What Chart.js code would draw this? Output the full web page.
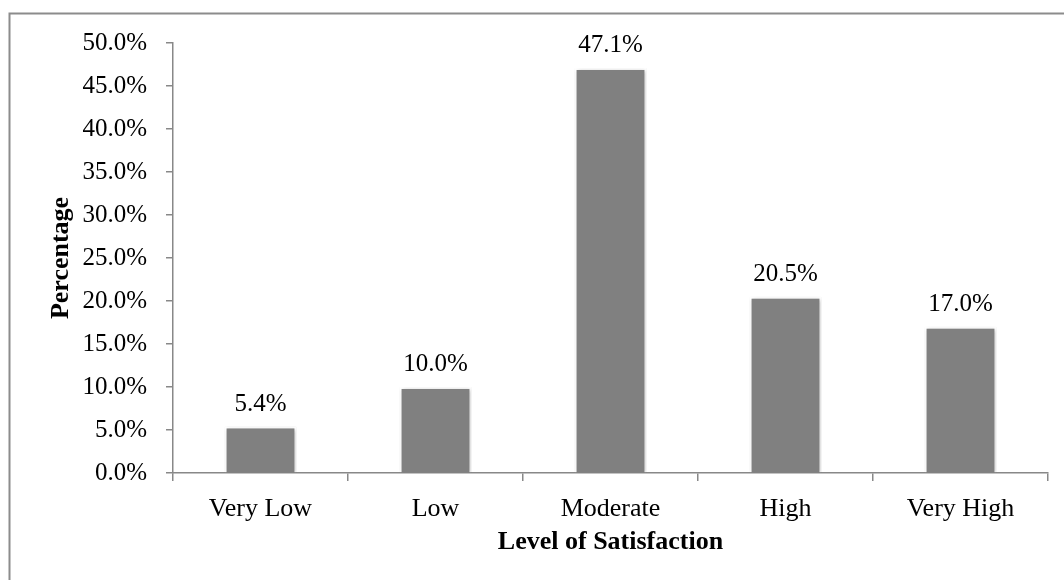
<!DOCTYPE html>
<html>
<head>
<meta charset="utf-8">
<script src="https://cdn.jsdelivr.net/npm/chart.js@4/dist/chart.umd.min.js"></script>
<style>
  html, body { margin: 0; padding: 0; background: #fff; }
  #wrap { width: 1064px; height: 580px; }
</style>
</head>
<body>
<div id="wrap"><canvas id="c" width="1064" height="580"></canvas></div>
<script>
// Satisfaction levels and share of respondents (%)
const categories = ['Very Low', 'Low', 'Moderate', 'High', 'Very High'];
const percentages = [5.4, 10.0, 47.1, 20.5, 17.0];
const yTicks = [0, 5, 10, 15, 20, 25, 30, 35, 40, 45, 50];
const yTitle = 'Percentage';
const xTitle = 'Level of Satisfaction';

const SERIF = "'Liberation Serif', 'Times New Roman', serif";
const AXIS_GREY = '#888888';

// Grey frame around the figure (left and top edges visible)
const framePlugin = {
  id: 'frame',
  beforeDraw(chart) {
    const ctx = chart.ctx;
    ctx.save();
    ctx.strokeStyle = '#8c8c8c';
    ctx.lineWidth = 2;
    ctx.strokeRect(9.5, 13.5, 1200, 700);
    ctx.restore();
  }
};

// Soft shadow under the bars
const shadowPlugin = {
  id: 'barShadow',
  beforeDatasetDraw(chart) {
    const ctx = chart.ctx;
    ctx.save();
    ctx.shadowColor = 'rgba(0,0,0,0.28)';
    ctx.shadowBlur = 4;
    ctx.shadowOffsetX = 1;
    ctx.shadowOffsetY = 1;
  },
  afterDatasetDraw(chart) {
    chart.ctx.restore();
  }
};

// Value labels above each bar
const valueLabels = {
  id: 'valueLabels',
  afterDatasetsDraw(chart) {
    const ctx = chart.ctx;
    const meta = chart.getDatasetMeta(0);
    ctx.save();
    ctx.font = '25px ' + SERIF;
    ctx.fillStyle = '#000';
    ctx.textAlign = 'center';
    ctx.textBaseline = 'alphabetic';
    meta.data.forEach((bar, i) => {
      const v = chart.data.datasets[0].data[i];
      ctx.fillText(v.toFixed(1) + '%', bar.x, bar.y - 16);
    });
    ctx.restore();
  }
};

new Chart(document.getElementById('c'), {
  type: 'bar',
  data: {
    labels: categories,
    datasets: [{
      data: percentages,
      backgroundColor: '#808080',
      borderColor: '#ffffff',
      borderWidth: 2,
      borderSkipped: 'bottom',
      barPercentage: 0.41,
      categoryPercentage: 1
    }]
  },
  options: {
    responsive: false,
    animation: false,
    layout: { padding: { left: 0, top: 43, right: 16, bottom: 0 } },
    plugins: {
      legend: { display: false },
      tooltip: { enabled: false }
    },
    scales: {
      x: {
        grid: {
          drawOnChartArea: false,
          drawTicks: true,
          tickLength: 8,
          color: AXIS_GREY,
          lineWidth: 1.5,
          offset: true
        },
        border: { color: AXIS_GREY, width: 1.5 },
        ticks: {
          font: { family: SERIF, size: 26 },
          color: '#000',
          padding: 13,
          maxRotation: 0
        },
        title: {
          display: true,
          text: xTitle,
          font: { family: SERIF, size: 26, weight: 'bold' },
          color: '#000',
          padding: { top: 0, bottom: 22 }
        },
        afterFit(scale) { scale.height = 107; }
      },
      y: {
        min: 0,
        max: 50,
        afterBuildTicks(scale) { scale.ticks = yTicks.map(v => ({ value: v })); },
        grid: {
          drawOnChartArea: false,
          drawTicks: true,
          tickLength: 7,
          color: AXIS_GREY,
          lineWidth: 1.5
        },
        border: { color: AXIS_GREY, width: 1.5 },
        ticks: {
          font: { family: SERIF, size: 25 },
          color: '#000',
          padding: 19,
          callback: v => Number(v).toFixed(1) + '%'
        },
        title: {
          display: true,
          text: yTitle,
          font: { family: SERIF, size: 26, weight: 'bold' },
          color: '#000',
          padding: { top: 46, bottom: 0 }
        },
        afterFit(scale) { scale.width = 173; }
      }
    }
  },
  plugins: [framePlugin, shadowPlugin, valueLabels]
});
</script>
</body>
</html>
